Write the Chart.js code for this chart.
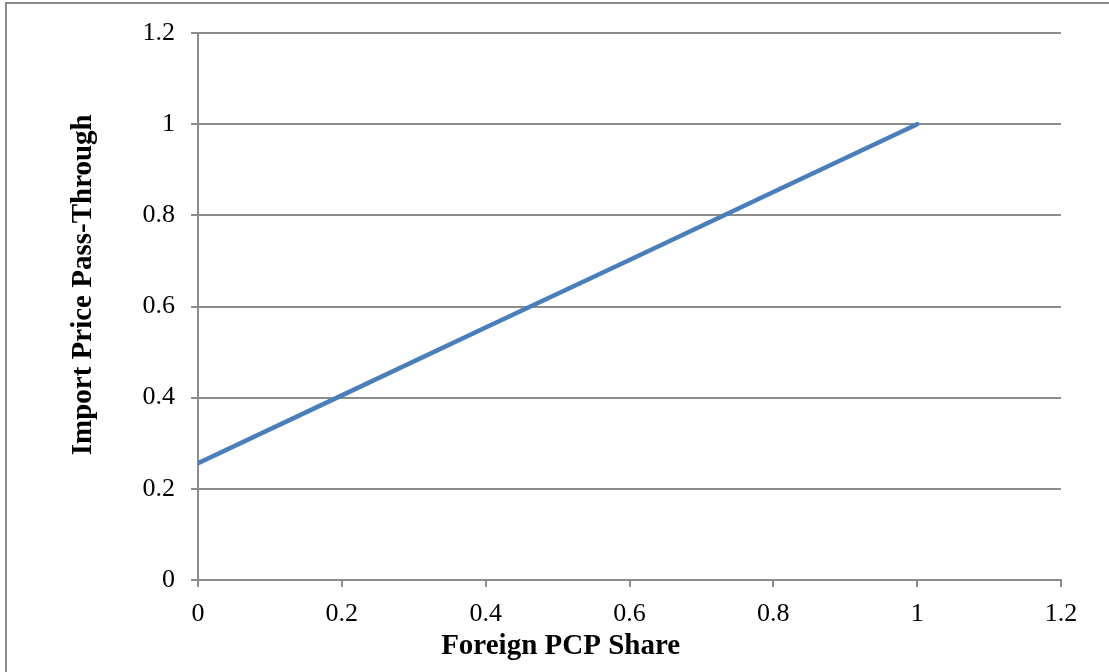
<!DOCTYPE html>
<html>
<head>
<meta charset="utf-8">
<script src="https://cdn.jsdelivr.net/npm/chart.js@4"></script>
<style>
  html, body { margin: 0; padding: 0; background: #fff; overflow: hidden; }
  #frame { position: absolute; left: 5px; top: 2px; width: 1300px; height: 900px; border: 2px solid #8c8c8c; }
  #wrap { position: absolute; left: 0; top: 0; width: 1109px; height: 672px; }
</style>
</head>
<body>
<div id="frame"></div>
<div id="wrap"><canvas id="myChart" width="1109" height="672"></canvas></div>
<script>
    // values
    const pcpShare = [0, 0.2, 0.4, 0.6, 0.8, 1];
    const passThrough = [0.256, 0.405, 0.554, 0.702, 0.851, 1.0];
    // padding spaces shift the titles off the axis centre, like the original
    const xTitle = "Foreign PCP Share" + " ".repeat(19);
    const yTitle = " ".repeat(6) + "Import Price Pass-Through";

    const gray = '#8c8c8c';
    const serif = "'Liberation Serif', 'Times New Roman', serif";

    let points = pcpShare.map((v, i) => ({ x: v, y: passThrough[i] }));
    let fmt = (v) => String(Number(v.toFixed(1)));

    let ctx = document.getElementById('myChart').getContext('2d');
    let chart = new Chart(ctx, {
        type: 'line',
        data: {
            datasets: [{
                data: points,
                borderColor: '#4a7ebb',
                borderWidth: 4.5,
                borderCapStyle: 'round',
                pointRadius: 0,
                fill: false,
                tension: 0
            }]
        },
        options: {
            responsive: false,
            animation: false,
            layout: { padding: { left: 0, right: 48, top: 33, bottom: 0 } },
            plugins: { legend: { display: false }, tooltip: { enabled: false } },
            scales: {
                x: {
                    type: 'linear',
                    min: 0, max: 1.2,
                    ticks: { stepSize: 0.2, color: '#000', padding: 12, callback: fmt, font: { family: serif, size: 26 } },
                    grid: { drawOnChartArea: false, drawTicks: true, tickLength: 7, color: gray, lineWidth: 2 },
                    border: { color: gray, width: 2 },
                    title: { display: true, text: xTitle, color: '#000', padding: { top: 0, bottom: 8 }, font: { family: serif, size: 29, weight: 'bold' } },
                    afterFit: (s) => { s.height = 92; }
                },
                y: {
                    min: 0, max: 1.2,
                    ticks: { stepSize: 0.2, color: '#000', padding: 16, callback: fmt, font: { family: serif, size: 26 } },
                    grid: { color: gray, lineWidth: 2, tickLength: 7 },
                    border: { color: gray, width: 2 },
                    title: { display: true, text: yTitle, color: '#000', padding: { top: 66, bottom: 0 }, font: { family: serif, size: 29, weight: 'bold' } },
                    afterFit: (s) => { s.width = 198; }
                }
            }
        }
    });
</script>
</body>
</html>
